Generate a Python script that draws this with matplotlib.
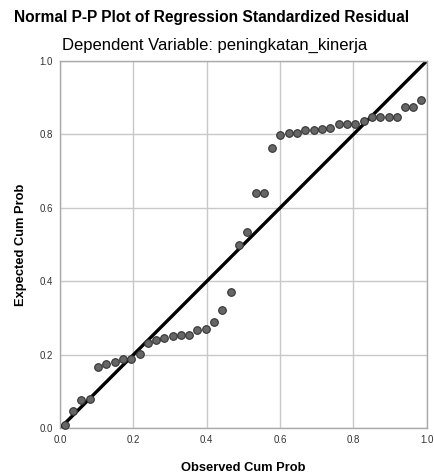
import matplotlib.pyplot as plt

plt.rcParams['font.family'] = ['Liberation Sans', 'DejaVu Sans']

# observed cumulative probability (x) and expected cumulative probability (y)
observed = [0.014, 0.035, 0.058, 0.082, 0.104, 0.126, 0.149, 0.171, 0.194, 0.217,
            0.240, 0.262, 0.284, 0.307, 0.330, 0.353, 0.374, 0.397, 0.419, 0.443,
            0.466, 0.488, 0.511, 0.534, 0.556, 0.578, 0.601, 0.624, 0.646, 0.669,
            0.692, 0.714, 0.737, 0.760, 0.783, 0.805, 0.828, 0.851, 0.873, 0.896,
            0.918, 0.941, 0.963, 0.985]
expected = [0.009, 0.048, 0.077, 0.080, 0.166, 0.174, 0.180, 0.188, 0.188, 0.202,
            0.231, 0.241, 0.246, 0.251, 0.253, 0.254, 0.268, 0.271, 0.289, 0.321,
            0.371, 0.499, 0.534, 0.641, 0.641, 0.762, 0.799, 0.803, 0.805, 0.811,
            0.813, 0.816, 0.817, 0.828, 0.828, 0.828, 0.837, 0.848, 0.847, 0.847,
            0.848, 0.875, 0.875, 0.893]
ticks = [0.0, 0.2, 0.4, 0.6, 0.8, 1.0]
tick_labels = ['0.0', '0.2', '0.4', '0.6', '0.8', '1.0']

fig = plt.figure(figsize=(4.34, 4.75), dpi=100)
ax = fig.add_axes([0.1382, 0.0983, 0.8450, 0.7733])

ax.set_xlim(0, 1)
ax.set_ylim(0, 1)
ax.set_xticks(ticks)
ax.set_yticks(ticks)
ax.set_xticklabels(tick_labels)
ax.set_yticklabels(tick_labels)
ax.tick_params(length=0, labelsize=7, colors='#333333', pad=5)
ax.grid(True, color='#c8c8c8', linewidth=1)
ax.set_axisbelow(True)
for s in ax.spines.values():
    s.set_color('#aaaaaa')
    s.set_linewidth(1)

ax.plot([0, 1], [0, 1], color='black', linewidth=2.4, zorder=2)
ax.scatter(observed, expected, s=30, color='#666666', edgecolors='#333333',
           linewidths=0.8, zorder=3, clip_on=False)

ax.set_xlabel('Observed Cum Prob', fontsize=9.3, fontweight='bold', labelpad=12)
ax.set_ylabel('Expected Cum Prob', fontsize=9.3, fontweight='bold', labelpad=9)

fig.text(0.487, 0.964, 'Normal P-P Plot of Regression Standardized Residual',
         ha='center', va='center', fontsize=11.2, fontweight='bold')
fig.text(0.495, 0.905, 'Dependent Variable: peningkatan_kinerja',
         ha='center', va='center', fontsize=12)

fig.savefig('out.png', dpi=100)
